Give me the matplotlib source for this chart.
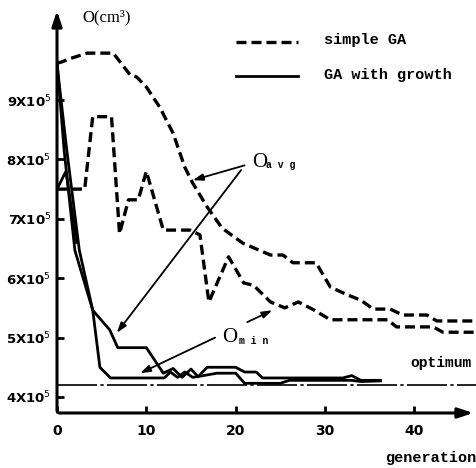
import matplotlib
matplotlib.use("Agg")
import matplotlib.pyplot as plt

# values in units of 1e5 cm^3
sga_avg_gen = [0, 0.5, 1.5, 3.4, 6.3, 8.2, 8.9, 10, 11.5, 13, 14.3, 15.2, 16.8, 18.5, 20.8,
               23.9, 25.3, 26.4, 29, 30.6, 32.5, 34, 35.4, 37.3, 38.7, 41.4, 42.5, 46.9]
sga_avg = [9.62, 9.64, 9.7, 9.79, 9.79, 9.42, 9.39, 9.22, 8.88, 8.44, 7.87, 7.6, 7.2, 6.84, 6.59,
           6.39, 6.39, 6.26, 6.26, 5.85, 5.72, 5.63, 5.48, 5.48, 5.38, 5.38, 5.28, 5.28]

sga_min_gen = [0, 3.1, 4, 6.1, 7, 8, 9.1, 10, 11.9, 14.9, 16, 17, 19.2, 20.9, 22, 23.9, 25.5,
               27, 28.7, 30.6, 37, 38, 42.1, 43.2, 46.9]
sga_min = [7.5, 7.5, 8.72, 8.72, 6.75, 7.32, 7.32, 7.8, 6.81, 6.81, 6.73, 5.6, 6.36, 5.92, 5.88,
           5.6, 5.5, 5.6, 5.47, 5.3, 5.3, 5.18, 5.18, 5.09, 5.09]

grow_avg_gen = [0, 0.8, 2.0, 4, 5.9, 6.8, 10, 11.9, 13, 14, 15, 15.8, 16.8, 20, 21, 22.3, 23,
                32, 33, 34, 36.2]
grow_avg = [9.65, 8.15, 6.47, 5.46, 5.13, 4.83, 4.83, 4.4, 4.48, 4.33, 4.47, 4.34, 4.5, 4.5, 4.42,
            4.42, 4.32, 4.32, 4.36, 4.28, 4.28]

grow_min_gen = [0, 1.1, 2.5, 4, 4.8, 6, 12, 12.7, 13.5, 14.3, 15.2, 16, 17.9, 20, 21, 25, 26,
                33, 34, 36.2]
grow_min = [9.6, 8.15, 6.47, 5.46, 4.5, 4.32, 4.32, 4.42, 4.33, 4.42, 4.33, 4.35, 4.4, 4.4, 4.23,
            4.23, 4.28, 4.28, 4.26, 4.27]

grow_init_gen = [0, 1, 2.2]
grow_init = [7.5, 7.8, 6.6]

optimum = 4.2
y_ticks = [4, 5, 6, 7, 8, 9]
x_ticks = [0, 10, 20, 30, 40]

mono = "Liberation Mono"
serif = "Liberation Serif"

fig = plt.figure(figsize=(4.76, 4.68), dpi=100)
ax = fig.add_axes([57 / 476, 55 / 468, 419 / 476, 405 / 468])
ax.set_xlim(0, 46.9)
ax.set_ylim(3.73, 10.55)

dash = dict(color="black", lw=2.4, linestyle=(0, (3.0, 1.5)), dash_capstyle="butt")
ax.plot(sga_avg_gen, sga_avg, **dash)
ax.plot(sga_min_gen, sga_min, **dash)
ax.plot(grow_avg_gen, grow_avg, color="black", lw=2)
ax.plot(grow_min_gen, grow_min, color="black", lw=2)
ax.plot(grow_init_gen, grow_init, color="black", lw=2)
ax.axhline(optimum, color="black", lw=1.2, linestyle=(0, (24, 2, 2, 2)))

# axes with arrows
for s in ax.spines.values():
    s.set_visible(False)
arr = dict(arrowstyle="-|>,head_length=0.9,head_width=0.3", lw=2.2, color="black")
ax.annotate("", xy=(0, 1), xytext=(0, -0.002), xycoords="axes fraction", arrowprops=arr)
ax.annotate("", xy=(1, 0), xytext=(-0.002, 0), xycoords="axes fraction", arrowprops=arr)

ax.set_xticks(x_ticks)
ax.set_xticklabels([str(t) for t in x_ticks], fontweight="bold", fontsize=10)
ax.set_yticks(y_ticks)
ax.set_yticklabels([f"{t}X10$^5$" for t in y_ticks], fontweight="bold", fontsize=9.5)
ax.tick_params(direction="in", length=5, width=2, pad=8)
ax.tick_params(axis="y", pad=4)

# legend drawn by hand
fig.text(324 / 476, 1 - 40 / 468, "simple GA", family=mono, fontweight="bold", fontsize=11, va="center")
fig.text(324 / 476, 1 - 75 / 468, "GA with growth", family=mono, fontweight="bold", fontsize=11, va="center")
fig.add_artist(plt.Line2D([236 / 476, 298 / 476], [1 - 42 / 468] * 2, **dash))
fig.add_artist(plt.Line2D([236 / 476, 298 / 476], [1 - 76 / 468] * 2, color="black", lw=2))

fig.text(82 / 476, 1 - 17 / 468, "O(cm³)", family=serif, fontsize=12, va="center")
fig.text(410 / 476, 1 - 363 / 468, "optimum", family=mono, fontweight="bold", fontsize=10.5, va="center")
fig.text(385 / 476, 1 - 458 / 468, "generation", family=mono, fontweight="bold", fontsize=11, va="center")

# annotations
ax.text(21.8, 7.95, "O", family=serif, fontsize=15, va="center")
ax.text(23.4, 7.9, "a v g", family=mono, fontweight="bold", fontsize=7, va="center")
ax.text(18.5, 5.0, "O", family=serif, fontsize=15, va="center")
ax.text(20.4, 4.94, "m i n", family=mono, fontweight="bold", fontsize=7, va="center")
ap = dict(arrowstyle="-|>,head_length=0.6,head_width=0.2", lw=1.3, color="black", shrinkA=0, shrinkB=0)
ax.annotate("", xy=(15.2, 7.65), xytext=(21.0, 7.9), arrowprops=ap)
ax.annotate("", xy=(6.7, 5.08), xytext=(20.6, 7.82), arrowprops=ap)
ax.annotate("", xy=(9.3, 4.4), xytext=(17.7, 5.0), arrowprops=ap)
ax.annotate("", xy=(24.1, 5.46), xytext=(21.3, 5.26), arrowprops=ap)

fig.savefig("out.png", dpi=100)
